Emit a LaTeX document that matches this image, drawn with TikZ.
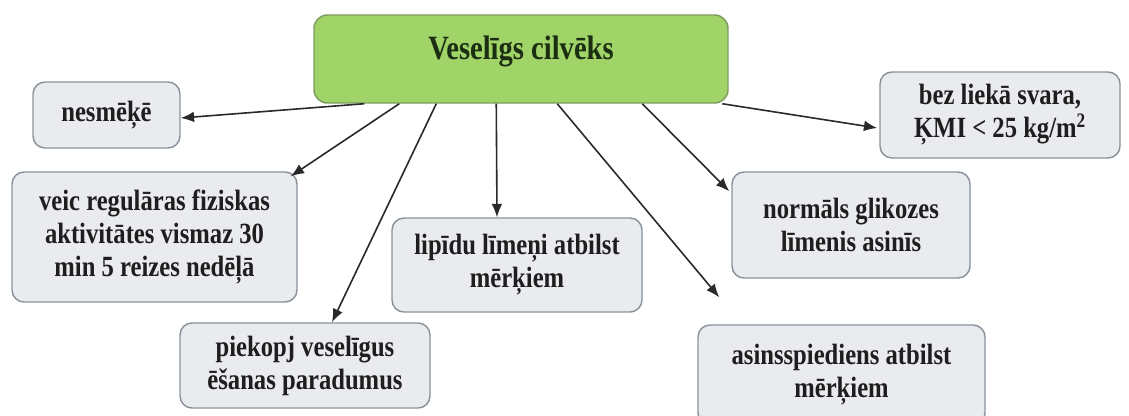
\documentclass[tikz,border=0pt]{standalone}
\usepackage{fontspec}
\setmainfont{Liberation Serif}[FakeStretch=0.84]
\usetikzlibrary{calc,arrows.meta}
\definecolor{maingreen}{HTML}{A0D468}
\definecolor{mainborder}{HTML}{7E9C62}
\definecolor{titletxt}{HTML}{1C2E12}
\definecolor{boxfill}{HTML}{E9EBEF}
\definecolor{boxborder}{HTML}{8A929C}
\definecolor{txt}{HTML}{1E1E1E}
\definecolor{arrowcol}{HTML}{2A2A2A}
\begin{document}
\begin{tikzpicture}[x=0.75pt,y=-0.75pt,
  sz/.style 2 args={minimum width={#1*0.75pt},minimum height={#2*0.75pt}},
  infobox/.style={draw=boxborder, line width=1.1pt, fill=boxfill, rounded corners=9pt,
    inner sep=0pt, align=center, text=txt, font=\fontsize{22}{24.8}\selectfont\bfseries},
  mainbox/.style={draw=mainborder, line width=1.1pt, fill=maingreen, rounded corners=10pt, inner sep=0pt},
  titletext/.style={text=titletxt, font=\fontsize{25.5}{28}\selectfont\bfseries, inner sep=0pt},
  conn/.style={draw=arrowcol, line width=1.2pt, -{Latex[length=10pt,width=8pt]}}
]
\clip (0,0) rectangle (1129,415);
\fill[white] (0,0) rectangle (1129,415);

\node[mainbox, sz={414}{88}] (main) at (521,59) {};
\node[titletext, anchor=base] (title) at (521,59) {Veselīgs cilvēks};

\node[infobox, sz={147}{66}] (n1) at (106.5,115) {nesmēķē};
\node[infobox, sz={285}{130}] (n2) at (154.5,237) {veic regulāras fiziskas\\aktivitātes vismaz 30\\min 5 reizes nedēļā};
\node[infobox, sz={250}{85}] (n3) at (305,365.5) {piekopj veselīgus\\ēšanas paradumus};
\node[infobox, sz={250}{94}] (n4) at (517,265) {lipīdu līmeņi atbilst\\mērķiem};
\node[infobox, sz={287}{100}] (n5) at (841.5,375) {asinsspiediens atbilst\\mērķiem};
\node[infobox, sz={238}{106}] (n6) at (851,225) {normāls glikozes\\līmenis asinīs};
\node[infobox, sz={240}{86}] (n7) at (1000,115) {bez liekā svara,\\ĶMI < 25 kg/m\textsuperscript{2}};

\coordinate (s1) at ($(main.south west)+(51,0)$);
\coordinate (s2) at ($(main.south west)+(86,0)$);
\coordinate (s3) at ($(main.south west)+(123,0)$);
\coordinate (s4) at ($(main.south west)+(183,0)$);
\coordinate (s5) at ($(main.south west)+(244,0)$);
\coordinate (s6) at ($(main.south west)+(329,0)$);
\coordinate (s7) at ($(main.south west)+(409,0)$);

\coordinate (e1) at ($(n1.east)+(0,3)$);
\coordinate (e2) at ($(n2.north east)+(-7,5)$);
\coordinate (e3) at ($(n3.north)+(27,0)$);
\coordinate (e4) at ($(n4.north)+(-20,0)$);
\coordinate (e5) at ($(n5.north west)+(22,-27)$);
\coordinate (e6) at ($(n6.north west)+(-2,20)$);
\coordinate (e7) at ($(n7.west)+(-2,13)$);

\draw[conn] (s1) -- (e1);
\draw[conn] (s2) -- (e2);
\draw[conn] (s3) -- (e3);
\draw[conn] (s4) -- (e4);
\draw[conn] (s5) -- (e5);
\draw[conn] (s6) -- (e6);
\draw[conn] (s7) -- (e7);
\end{tikzpicture}
\end{document}
